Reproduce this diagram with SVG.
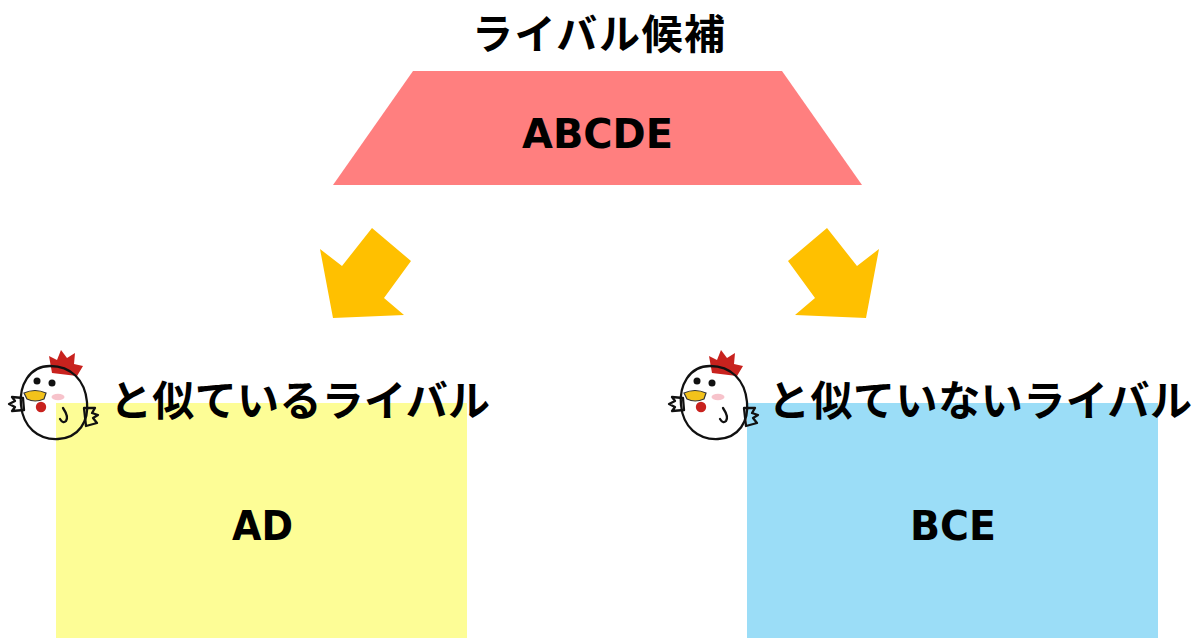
<svg xmlns="http://www.w3.org/2000/svg" xmlns:xlink="http://www.w3.org/1999/xlink" width="1195" height="638" viewBox="0 0 1195 638">
  <style>
    .t { font-family: "Noto Sans CJK JP", "Noto Sans", sans-serif; font-weight: bold; fill: #000; }
    .title { font-size: 41px; }
    .lbl { font-size: 42px; }
    .lat { font-family: "DejaVu Sans", "Noto Sans CJK JP", sans-serif; font-weight: bold; font-size: 40px; fill: #000; }
    .arrow { fill: #FFC000; }
    .ln { fill: none; stroke: #111; stroke-width: 2.3; stroke-linecap: round; stroke-linejoin: round; }
  </style>
  <defs>
    <!-- small chicken mascot, drawn at the left-hand position -->
    <g id="chicken">
      <path d="M52 373 L49 356 L57 360 L61 350 L67 358 L75 353 L74 364 L83 366 L77 376 Z" fill="#C8221E"/>
      <path d="M23 398 L12 397 L15 401 L9 404 L15 407 L12 411 L24 410 Z" fill="#fff" class="ln"/>
      <path d="M84 408 L95 408 L92 413 L98 415 L93 418 L97 423 L86 426 Z" fill="#fff" class="ln"/>
      <path d="M50 366 C29 366 19 386 21 405 C23 427 38 440 58 439 C79 438 89 421 87 402 C85 380 71 366 50 366 Z" fill="#fff" class="ln"/>
      <circle cx="37" cy="381" r="3.5" fill="#111"/>
      <circle cx="52" cy="383" r="3.5" fill="#111"/>
      <ellipse cx="58" cy="397" rx="6.5" ry="3.2" fill="#F7C3CB"/>
      <path d="M24 393 Q35 388 46 393 L44 399 Q35 403 27 399 Z" fill="#F2C21B" stroke="#333" stroke-width="1.2"/>
      <circle cx="41" cy="407" r="5.2" fill="#C8221E"/>
      <path d="M63 408 Q69 417 66 421 Q63 424 60 419" class="ln"/>
    </g>
  </defs>

  <rect width="1195" height="638" fill="#fff"/>

  <!-- title -->
  <text class="t title" x="472" y="49" textLength="253" lengthAdjust="spacing">ライバル候補</text>

  <!-- candidates -->
  <g id="candidates">
    <polygon points="413,71 782,71 862,185 333,185" fill="#FF7F7F"/>
    <text class="lat" x="522" y="148" textLength="151" lengthAdjust="spacingAndGlyphs">ABCDE</text>
  </g>

  <!-- arrows -->
  <g id="connectors">
    <polygon class="arrow" points="372,228 411,261 384,298 404,315 333,318 320,249 342,266"/>
    <polygon class="arrow" points="827,228 788,261 815,298 795,315 866,318 879,249 857,266"/>
  </g>

  <!-- similar rivals -->
  <g id="similar">
    <rect x="56" y="403" width="411" height="235" fill="#FDFD96"/>
    <text class="lat" x="232" y="540" textLength="61" lengthAdjust="spacingAndGlyphs">AD</text>
    <use xlink:href="#chicken"/>
    <text class="t lbl" x="110" y="416" textLength="380" lengthAdjust="spacing">と似ているライバル</text>
  </g>

  <!-- dissimilar rivals -->
  <g id="dissimilar">
    <rect x="747" y="403" width="411" height="235" fill="#9BDDF7"/>
    <text class="lat" x="910" y="540" textLength="86" lengthAdjust="spacingAndGlyphs">BCE</text>
    <use xlink:href="#chicken" transform="translate(660,0)"/>
    <text class="t lbl" x="768" y="416" textLength="424" lengthAdjust="spacing">と似ていないライバル</text>
  </g>
</svg>
